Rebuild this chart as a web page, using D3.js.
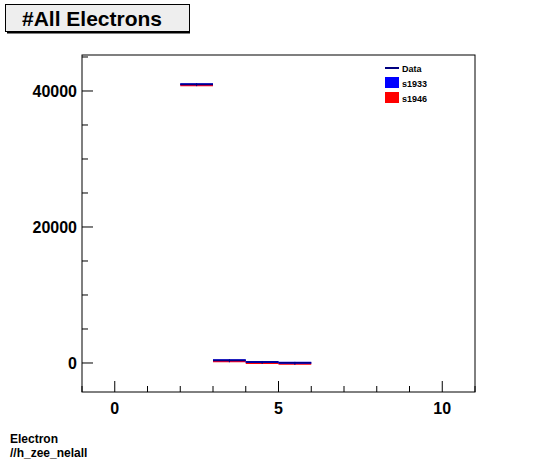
<!DOCTYPE html><html><head><script src="https://cdn.jsdelivr.net/npm/d3@7"></script>
<style>body{margin:0;background:#fff}</style></head><body><svg id="c" width="546" height="462"></svg>
<script>
const binEdges=[2,3,4,5,6];
const s1933=[41000,400,150,20];
const s1946=[41000,400,150,20];
const dataVals=[41000,400,150,20];
const xTicks=[0,5,10];
const yTicks=[0,20000,40000];
const svg=d3.select("#c");
const L=82,R=475,T=55,B=392;
const x=d3.scaleLinear().domain([-1,11]).range([L,R]);
const y=d3.scaleLinear().domain([-4265,45294]).range([B,T]);
svg.append("rect").attr("x",L).attr("y",T).attr("width",R-L).attr("height",B-T).attr("fill","none").attr("stroke","#000");
const bins=s1933.map((v,i)=>({x0:binEdges[i],x1:binEdges[i+1],v,r:s1946[i],d:dataVals[i]}));
bins.forEach(b=>{
 svg.append("line").attr("x1",x(b.x0)).attr("x2",x(b.x1)).attr("y1",y(b.r)+1).attr("y2",y(b.r)+1).attr("stroke","red").attr("stroke-width",2);
 svg.append("line").attr("x1",x(b.x0)).attr("x2",x(b.x1)).attr("y1",y(b.v)).attr("y2",y(b.v)).attr("stroke","blue").attr("stroke-width",2);
 svg.append("line").attr("x1",x(b.x0)).attr("x2",x(b.x1)).attr("y1",y(b.d)).attr("y2",y(b.d)).attr("stroke","#000080").attr("stroke-width",1.5);
 svg.append("line").attr("x1",x((b.x0+b.x1)/2)).attr("x2",x((b.x0+b.x1)/2)).attr("y1",y(b.d)-1).attr("y2",y(b.d)+2).attr("stroke","#000080");
});
// x ticks
for(let t=-1;t<=11;t++){const maj=t%5===0;svg.append("line").attr("x1",x(t)).attr("x2",x(t)).attr("y1",B).attr("y2",B-(maj?11:6)).attr("stroke","#000");}
xTicks.forEach(t=>svg.append("text").attr("x",x(t)).attr("y",B+22).attr("text-anchor","middle").attr("font-family","Liberation Sans,Arial").attr("font-weight","bold").attr("font-size",16).text(t));
for(let t=-0;t<=45000;t+=5000){const maj=t%20000===0;svg.append("line").attr("x1",L).attr("x2",L+(maj?11:6)).attr("y1",y(t)).attr("y2",y(t)).attr("stroke","#000");}
svg.append("line").attr("x1",L).attr("x2",L+6).attr("y1",y(-5000+2000)).attr("y2",y(-3000)).attr("stroke","none");
yTicks.forEach(t=>svg.append("text").attr("x",L-5).attr("y",y(t)+6).attr("text-anchor","end").attr("font-family","Liberation Sans,Arial").attr("font-weight","bold").attr("font-size",16).text(t));
// title
svg.append("rect").attr("x",5.5).attr("y",4.5).attr("width",184).attr("height",27).attr("fill","#eee").attr("stroke","#000");
svg.append("line").attr("x1",7).attr("x2",190).attr("y1",32.5).attr("y2",32.5).attr("stroke","#000").attr("stroke-width",2);
svg.append("text").attr("x",22).attr("y",26).attr("font-family","Liberation Sans,Arial").attr("font-weight","bold").attr("font-size",21).text("#All Electrons");
// legend
const lg=[{n:"Data",c:"#000080",t:"line"},{n:"s1933",c:"blue",t:"box"},{n:"s1946",c:"red",t:"box"}];
lg.forEach((d,i)=>{const yy=68+i*15;
 if(d.t==="line")svg.append("line").attr("x1",385).attr("x2",399).attr("y1",yy).attr("y2",yy).attr("stroke",d.c).attr("stroke-width",2);
 else svg.append("rect").attr("x",385).attr("y",yy-6).attr("width",14).attr("height",11).attr("fill",d.c);
 svg.append("text").attr("x",402).attr("y",yy+3.5).attr("font-family","Liberation Sans,Arial").attr("font-weight","bold").attr("font-size",9).text(d.n);});
svg.append("text").attr("x",10).attr("y",443).attr("font-family","Liberation Sans,Arial").attr("font-weight","bold").attr("font-size",12).text("Electron");
svg.append("text").attr("x",10).attr("y",457).attr("font-family","Liberation Sans,Arial").attr("font-weight","bold").attr("font-size",12).text("//h_zee_nelall");
</script></body></html>
